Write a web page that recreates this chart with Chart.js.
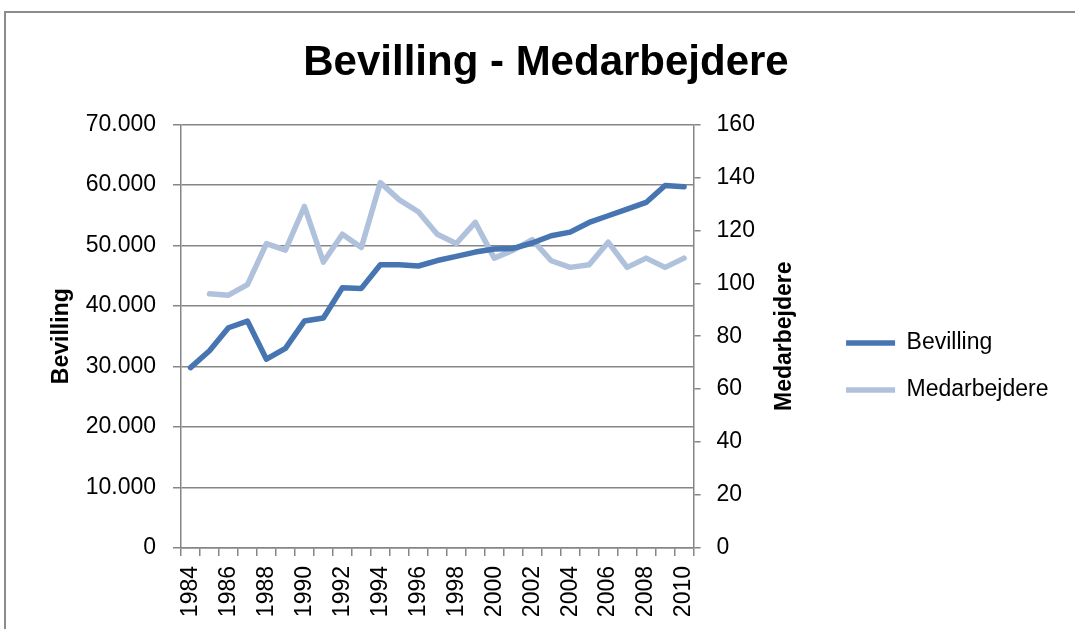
<!DOCTYPE html>
<html>
<head>
<meta charset="utf-8">
<script src="https://cdn.jsdelivr.net/npm/chart.js@4"></script>
<style>
  html, body { margin: 0; padding: 0; background: #fff; overflow: hidden; }
  #frame { position: absolute; left: 4px; top: 11px; width: 1300px; height: 900px; border: 2px solid #8c8c8c; box-sizing: border-box; }
  #wrap { position: absolute; left: 0; top: 0; width: 1075px; height: 629px; }
</style>
</head>
<body>
<div id="frame"></div>
<div id="wrap"><canvas id="c"></canvas></div>
<script>
const years = [1984,1985,1986,1987,1988,1989,1990,1991,1992,1993,1994,1995,1996,1997,1998,1999,2000,2001,2002,2003,2004,2005,2006,2007,2008,2009,2010];
const bevilling = [29800,32600,36400,37500,31200,33000,37500,38000,43000,42900,46800,46800,46600,47500,48200,48900,49400,49500,50400,51600,52200,53800,54900,56000,57100,59900,59700];
const medarbejdere = [null,96,95.5,99.5,115,112.5,129,108,118.5,113.5,138,131.5,127,118.5,115,123,109.5,112.5,116.5,108.5,106,107,115.5,106,109.5,106,109.5];
const leftTicks = [0,10000,20000,30000,40000,50000,60000,70000];
const rightTicks = [0,20,40,60,80,100,120,140,160];

const FONT = "'Liberation Sans', Arial, sans-serif";
const GRAY = '#868686';
const DARK = '#4675b2';
const LIGHT = '#b0c1dc';

function fmtThousands(v) {
  return String(v).replace(/\B(?=(\d{3})+(?!\d))/g, '.');
}

const rightTitlePlugin = {
  id: 'rightTitle',
  afterDraw(chart) {
    const ctx = chart.ctx;
    const area = chart.chartArea;
    ctx.save();
    ctx.font = "bold 23px " + FONT;
    ctx.fillStyle = '#000';
    ctx.textAlign = 'center';
    ctx.textBaseline = 'middle';
    ctx.translate(area.right + 91, (area.top + area.bottom) / 2);
    ctx.rotate(-Math.PI / 2);
    ctx.fillText('Medarbejdere', 0, 0);
    ctx.restore();
  }
};

new Chart(document.getElementById('c'), {
  type: 'line',
  data: {
    labels: years.map(String),
    datasets: [
      {
        label: 'Bevilling',
        data: bevilling,
        yAxisID: 'y',
        borderColor: DARK,
        backgroundColor: DARK,
        borderWidth: 5.5,
        borderCapStyle: 'round',
        borderJoinStyle: 'round',
        pointRadius: 0,
        tension: 0
      },
      {
        label: 'Medarbejdere',
        data: medarbejdere,
        yAxisID: 'y1',
        borderColor: LIGHT,
        backgroundColor: LIGHT,
        borderWidth: 5.5,
        borderCapStyle: 'round',
        borderJoinStyle: 'round',
        pointRadius: 0,
        tension: 0
      }
    ]
  },
  options: {
    responsive: true,
    maintainAspectRatio: false,
    animation: false,
    events: [],
    layout: { padding: { left: 33.5, right: 16.5, top: 0, bottom: 0 } },
    plugins: {
      title: {
        display: true,
        text: 'Bevilling - Medarbejdere',
        color: '#000',
        font: { family: FONT, size: 42, weight: 'bold' },
        padding: { top: 38, bottom: 36 }
      },
      legend: {
        position: 'right',
        maxWidth: 400,
        title: { display: true, text: ' ', font: { size: 10 }, padding: { top: 46, bottom: 46 } },
        labels: {
          color: '#000',
          font: { family: FONT, size: 23 },
          usePointStyle: true,
          pointStyle: 'line',
          pointStyleWidth: 49,
          padding: 24
        }
      },
      tooltip: { enabled: false }
    },
    scales: {
      x: {
        type: 'category',
        offset: true,
        grid: { display: true, offset: true, drawOnChartArea: false, drawTicks: true, tickLength: 8, color: GRAY, lineWidth: 1.5 },
        border: { display: true, color: GRAY, width: 1.5 },
        ticks: {
          autoSkip: false,
          maxRotation: 90,
          minRotation: 90,
          padding: 10,
          color: '#000',
          font: { family: FONT, size: 23 },
          callback: function (v, i) { return i % 2 === 0 ? years[i] : ''; }
        },
        afterFit(scale) { scale.height = 81; }
      },
      y: {
        type: 'linear',
        position: 'left',
        min: 0,
        max: 70000,
        afterBuildTicks(scale) { scale.ticks = leftTicks.map(v => ({ value: v })); },
        grid: { color: GRAY, lineWidth: 1.5, tickLength: 8, drawTicks: true },
        border: { display: true, color: GRAY, width: 1.5 },
        ticks: {
          padding: 17,
          color: '#000',
          font: { family: FONT, size: 23 },
          callback: function (v) { return fmtThousands(v); }
        },
        title: {
          display: true,
          text: 'Bevilling',
          color: '#000',
          font: { family: FONT, size: 23, weight: 'bold' },
          padding: { top: 14.5, bottom: 0 }
        },
        afterFit(scale) { scale.width = 147.5; }
      },
      y1: {
        type: 'linear',
        position: 'right',
        min: 0,
        max: 160,
        afterBuildTicks(scale) { scale.ticks = rightTicks.map(v => ({ value: v })); },
        grid: { drawOnChartArea: false, drawTicks: true, tickLength: 7, color: GRAY, lineWidth: 1.5 },
        border: { display: true, color: GRAY, width: 1.5 },
        ticks: {
          padding: 16,
          color: '#000',
          font: { family: FONT, size: 23 }
        },
        afterFit(scale) { scale.width = 128.5; }
      }
    }
  },
  plugins: [rightTitlePlugin]
});
</script>
</body>
</html>
